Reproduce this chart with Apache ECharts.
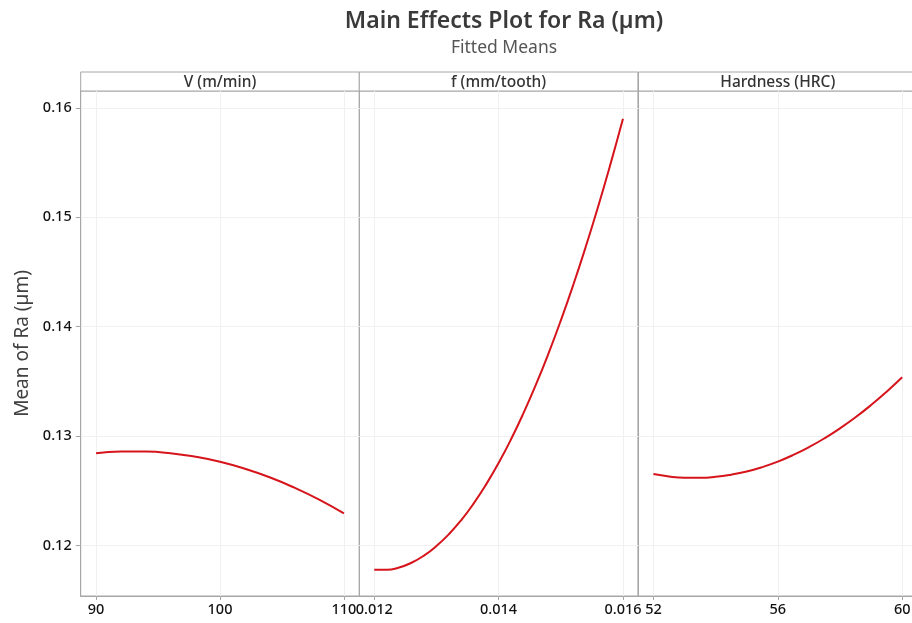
<!DOCTYPE html>
<html><head><meta charset="utf-8">
<script src="https://cdn.jsdelivr.net/npm/echarts@6/dist/echarts.min.js"></script>
<style>html,body{margin:0;padding:0;background:#fff}#c{width:912px;height:623px}</style>
</head><body><div id="c"></div>
<script>
const panelTitles = ['V (m/min)', 'f (mm/tooth)', 'Hardness (HRC)'];
const yTicks = [0.12, 0.13, 0.14, 0.15, 0.16];
const vTicks = [90, 100, 110];
const fTicks = [0.012, 0.014, 0.016];
const hTicks = [52, 56, 60];
const vX = [90, 92, 94, 96, 98, 100, 102, 104, 106, 108, 110];
const vY = [0.12844, 0.12860, 0.12859, 0.12844, 0.12812, 0.12765, 0.12702, 0.12624, 0.12529, 0.12420, 0.12294];
const fX = [0.0120, 0.0122, 0.0124, 0.0126, 0.0128, 0.0130, 0.0132, 0.0134, 0.0136, 0.0138, 0.0140, 0.0142, 0.0144, 0.0146, 0.0148, 0.0150, 0.0152, 0.0154, 0.0156, 0.0158, 0.0160];
const fY = [0.11778, 0.11778, 0.11799, 0.11843, 0.11908, 0.11995, 0.12103, 0.12233, 0.12385, 0.12559, 0.12754, 0.12971, 0.13210, 0.13470, 0.13752, 0.14056, 0.14381, 0.14728, 0.15097, 0.15488, 0.15900];
const hX = [52, 52.5, 53, 53.5, 54, 54.5, 55, 55.5, 56, 56.5, 57, 57.5, 58, 58.5, 59, 59.5, 60];
const hY = [0.12653, 0.12631, 0.12620, 0.12619, 0.12628, 0.12648, 0.12677, 0.12717, 0.12767, 0.12828, 0.12899, 0.12980, 0.13071, 0.13172, 0.13284, 0.13406, 0.13538];

const FONT = '"Noto Sans", "Open Sans", sans-serif';
const gridTop = 91, gridBottomY = 596, headerTop = 72;
const lefts = [80.7, 359.3, 638.5];
const width = 278.6;
const yMin = 0.11539, yMax = 0.16154;
const xRanges = [[88.76, 111.24], [0.01176, 0.01624], [51.52, 60.48]];
const xTicksAll = [vTicks, fTicks, hTicks];
const seriesX = [vX, fX, hX], seriesY = [vY, fY, hY];

const grids = [], xAxes = [], yAxes = [], series = [], graphics = [];
for (let i = 0; i < 3; i++) {
  grids.push({left: lefts[i], top: gridTop, width: width, height: gridBottomY - gridTop,
    show: true, borderColor: '#a6a6a6', borderWidth: 1, containLabel: false, outerBoundsMode: 'none'});
  xAxes.push({type: 'value', gridIndex: i, min: xRanges[i][0], max: xRanges[i][1],
    axisLine: {show: true, lineStyle: {color: '#a6a6a6'}},
    axisTick: {show: true, length: 4, customValues: xTicksAll[i], lineStyle: {color: '#a6a6a6'}},
    axisLabel: {customValues: xTicksAll[i], color: '#111', fontSize: 14.5, fontWeight: 500, fontFamily: FONT, margin: 6},
    splitLine: {show: true, lineStyle: {color: '#f0f0f0'}}});
  yAxes.push({type: 'value', gridIndex: i, min: yMin, max: yMax,
    axisLine: {show: i === 0, lineStyle: {color: '#a6a6a6'}},
    axisTick: {show: i === 0, length: 5, customValues: yTicks, lineStyle: {color: '#a6a6a6'}},
    axisLabel: {show: i === 0, customValues: yTicks, color: '#111', fontSize: 14.5, fontWeight: 500, fontFamily: FONT, margin: 9},
    splitLine: {show: true, lineStyle: {color: '#f0f0f0'}},
    name: i === 0 ? 'Mean of Ra (µm)' : '', nameLocation: 'middle', nameGap: 49, nameRotate: 90,
    nameTextStyle: {fontSize: 19, color: '#404040', fontFamily: FONT}});
  series.push({type: 'line', xAxisIndex: i, yAxisIndex: i, smooth: true, symbol: 'none',
    data: seriesX[i].map((x, k) => [x, seriesY[i][k]]),
    lineStyle: {color: '#d6141b', width: 2}, silent: true});
  graphics.push({type: 'rect', shape: {x: lefts[i], y: headerTop, width: width, height: gridTop - headerTop},
    style: {fill: '#fff', stroke: '#a6a6a6', lineWidth: 1}});
  graphics.push({type: 'text', x: lefts[i] + width / 2, y: (headerTop + gridTop) / 2 + 1,
    style: {text: panelTitles[i], fill: '#333', font: '500 15.5px ' + FONT, align: 'center', verticalAlign: 'middle'}});
}

const chart = echarts.init(document.getElementById('c'), null, {renderer: 'canvas'});
chart.setOption({
  animation: false,
  backgroundColor: '#fff',
  title: [
    {text: 'Main Effects Plot for Ra (µm)', left: 499, top: 5, textAlign: 'center',
     textStyle: {fontSize: 23, fontWeight: 600, color: '#3a3a3a', fontFamily: FONT}},
    {text: 'Fitted Means', left: 499, top: 34, textAlign: 'center',
     textStyle: {fontSize: 17.5, fontWeight: 'normal', color: '#555', fontFamily: FONT}}
  ],
  grid: grids, xAxis: xAxes, yAxis: yAxes, series: series, graphic: graphics
});
</script></body></html>
